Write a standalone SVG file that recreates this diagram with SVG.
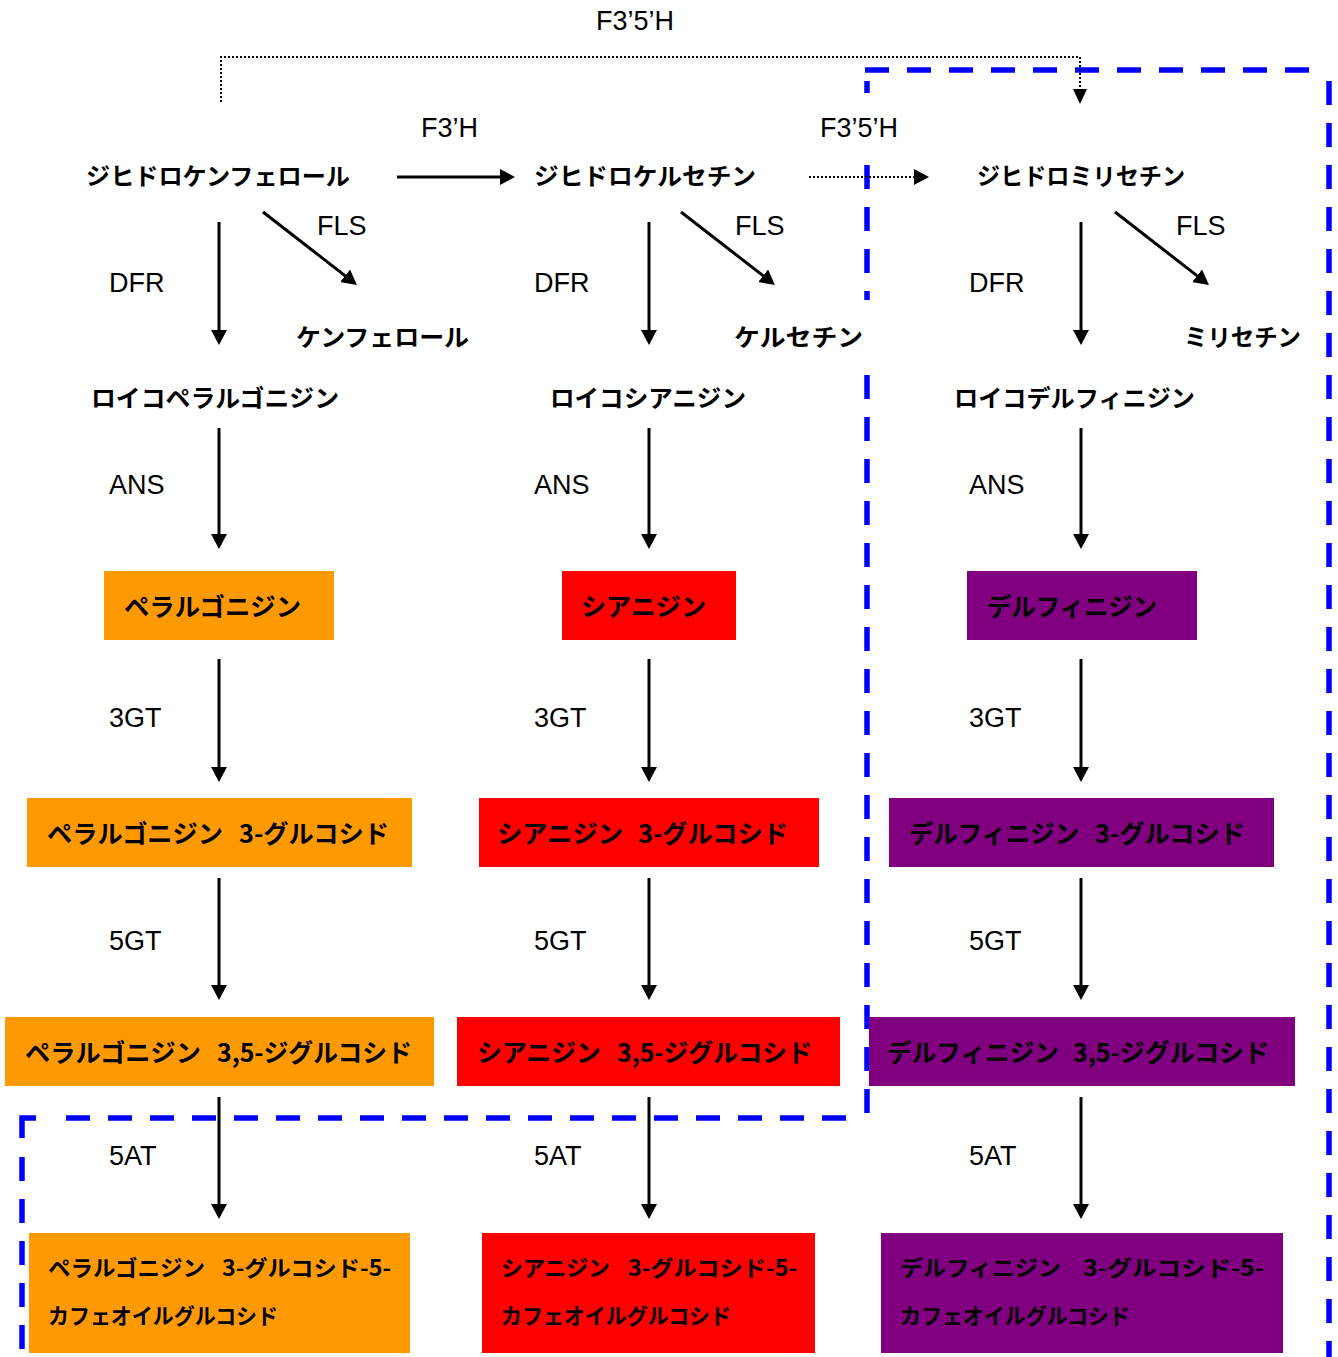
<svg xmlns="http://www.w3.org/2000/svg" width="1338" height="1357" viewBox="0 0 1338 1357">
<style>
.lbl{font-family:"Liberation Sans",Arial,sans-serif;font-size:27px;fill:#000}
.jp{font-family:"Noto Sans CJK JP","Noto Sans",sans-serif;font-weight:bold;font-size:24px;fill:#000}
.bx{font-family:"Noto Sans CJK JP","Noto Sans",sans-serif;font-weight:bold;font-size:25px;fill:#000}
.bs{font-family:"Noto Sans CJK JP","Noto Sans",sans-serif;font-weight:bold;font-size:22px;fill:#000}
.ar{stroke:#000;stroke-width:3;fill:none;marker-end:url(#ah)}
.dt{stroke:#000;stroke-width:2;stroke-dasharray:2 2;fill:none}
.blue{stroke:#0000FF;stroke-width:5.5;stroke-dasharray:24 18;fill:none}
.bsolid{stroke:#0000FF;stroke-width:5.5;fill:none}
.or{fill:#FF9900}.rd{fill:#FF0000}.pu{fill:#800080}
</style>
<defs>
<marker id="ah" viewBox="0 0 15 16" refX="3" refY="8" markerWidth="15" markerHeight="16" markerUnits="userSpaceOnUse" orient="auto">
<path d="M0,0 L15,8 L0,16 z" fill="#000"/>
</marker>
</defs>

<g id="region">
<path class="blue" d="M865,70 L1312,70"/>
<path class="blue" d="M1329,81 L1329,1357"/>
<path class="blue" d="M867,81 L867,1113"/>
<path class="blue" d="M846,1118 L62,1118"/>
<path class="bsolid" d="M36,1118 L22,1118 L22,1138"/>
<path class="blue" d="M22,1157 L22,1357"/>
<rect x="812" y="93" width="96" height="68" fill="#fff"/>
<rect x="728" y="300" width="150" height="72" fill="#fff"/>
</g>

<g id="connectors">
<path class="dt" d="M221,102 L221,57 L1080,57 L1080,90"/>
<path d="M1073,89 L1087,89 L1080,104 z" fill="#000"/>
<line class="ar" x1="397" y1="177" x2="503" y2="177"/>
<line class="dt" x1="809" y1="177" x2="916" y2="177"/>
<path d="M914,169 L929,177 L914,185 z" fill="#000"/>
<line class="ar" x1="219" y1="222" x2="219" y2="333"/>
<line class="ar" x1="649" y1="222" x2="649" y2="333"/>
<line class="ar" x1="1081" y1="222" x2="1081" y2="333"/>
<line class="ar" x1="263" y1="212" x2="347.5" y2="277.6"/>
<line class="ar" x1="681" y1="212" x2="765.5" y2="277.6"/>
<line class="ar" x1="1115" y1="212" x2="1199.5" y2="277.6"/>
<line class="ar" x1="219" y1="428" x2="219" y2="537"/>
<line class="ar" x1="649" y1="428" x2="649" y2="537"/>
<line class="ar" x1="1081" y1="428" x2="1081" y2="537"/>
<line class="ar" x1="219" y1="659" x2="219" y2="770"/>
<line class="ar" x1="649" y1="659" x2="649" y2="770"/>
<line class="ar" x1="1081" y1="659" x2="1081" y2="770"/>
<line class="ar" x1="219" y1="878" x2="219" y2="988"/>
<line class="ar" x1="649" y1="878" x2="649" y2="988"/>
<line class="ar" x1="1081" y1="878" x2="1081" y2="988"/>
<line class="ar" x1="219" y1="1097" x2="219" y2="1207"/>
<line class="ar" x1="649" y1="1097" x2="649" y2="1207"/>
<line class="ar" x1="1081" y1="1097" x2="1081" y2="1207"/>
</g>

<g id="enzyme-labels">
<text class="lbl" x="596" y="30">F3’5’H</text>
<text class="lbl" x="421" y="137">F3’H</text>
<text class="lbl" x="820" y="137">F3’5’H</text>
<text class="lbl" x="317" y="235">FLS</text>
<text class="lbl" x="735" y="235">FLS</text>
<text class="lbl" x="1176" y="235">FLS</text>
<text class="lbl" x="109" y="292">DFR</text>
<text class="lbl" x="534" y="292">DFR</text>
<text class="lbl" x="969" y="292">DFR</text>
<text class="lbl" x="109" y="494">ANS</text>
<text class="lbl" x="534" y="494">ANS</text>
<text class="lbl" x="969" y="494">ANS</text>
<text class="lbl" x="109" y="727">3GT</text>
<text class="lbl" x="534" y="727">3GT</text>
<text class="lbl" x="969" y="727">3GT</text>
<text class="lbl" x="109" y="950">5GT</text>
<text class="lbl" x="534" y="950">5GT</text>
<text class="lbl" x="969" y="950">5GT</text>
<text class="lbl" x="109" y="1165">5AT</text>
<text class="lbl" x="534" y="1165">5AT</text>
<text class="lbl" x="969" y="1165">5AT</text>
</g>

<g id="dihydrokaempferol"><text class="jp" x="86" y="185" textLength="264" lengthAdjust="spacingAndGlyphs">ジヒドロケンフェロール</text></g>
<g id="dihydroquercetin"><text class="jp" x="534" y="185" textLength="222" lengthAdjust="spacingAndGlyphs">ジヒドロケルセチン</text></g>
<g id="dihydromyricetin"><text class="jp" x="977" y="185" textLength="208" lengthAdjust="spacingAndGlyphs">ジヒドロミリセチン</text></g>
<g id="kaempferol"><text class="jp" x="296" y="346" textLength="173" lengthAdjust="spacingAndGlyphs">ケンフェロール</text></g>
<g id="quercetin"><text class="jp" x="734" y="346" textLength="129" lengthAdjust="spacingAndGlyphs">ケルセチン</text></g>
<g id="myricetin"><text class="jp" x="1184" y="346" textLength="117" lengthAdjust="spacingAndGlyphs">ミリセチン</text></g>
<g id="leucopelargonidin"><text class="jp" x="91" y="407" textLength="248" lengthAdjust="spacingAndGlyphs">ロイコペラルゴニジン</text></g>
<g id="leucocyanidin"><text class="jp" x="550" y="407" textLength="196" lengthAdjust="spacingAndGlyphs">ロイコシアニジン</text></g>
<g id="leucodelphinidin"><text class="jp" x="954" y="407" textLength="241" lengthAdjust="spacingAndGlyphs">ロイコデルフィニジン</text></g>

<g id="pelargonidin"><rect class="or" x="104" y="571" width="230" height="69"/><text class="bx" x="124" y="616" textLength="177" lengthAdjust="spacingAndGlyphs">ペラルゴニジン</text></g>
<g id="cyanidin"><rect class="rd" x="562" y="571" width="174" height="69"/><text class="bx" x="581" y="616" textLength="125" lengthAdjust="spacingAndGlyphs">シアニジン</text></g>
<g id="delphinidin"><rect class="pu" x="967" y="571" width="230" height="69"/><text class="bx" x="987" y="616" textLength="170" lengthAdjust="spacingAndGlyphs">デルフィニジン</text></g>

<g id="pelargonidin-3g"><rect class="or" x="27" y="798" width="385" height="69"/><text class="bx" y="843"><tspan x="47" textLength="176" lengthAdjust="spacingAndGlyphs">ペラルゴニジン</tspan> <tspan x="239" textLength="150" lengthAdjust="spacingAndGlyphs">3-グルコシド</tspan></text></g>
<g id="cyanidin-3g"><rect class="rd" x="479" y="798" width="340" height="69"/><text class="bx" y="843"><tspan x="497" textLength="126" lengthAdjust="spacingAndGlyphs">シアニジン</tspan> <tspan x="638" textLength="150" lengthAdjust="spacingAndGlyphs">3-グルコシド</tspan></text></g>
<g id="delphinidin-3g"><rect class="pu" x="889" y="798" width="385" height="69"/><text class="bx" y="843"><tspan x="909" textLength="170" lengthAdjust="spacingAndGlyphs">デルフィニジン</tspan> <tspan x="1095" textLength="150" lengthAdjust="spacingAndGlyphs">3-グルコシド</tspan></text></g>

<g id="pelargonidin-35dg"><rect class="or" x="5" y="1017" width="429" height="69"/><text class="bx" y="1062"><tspan x="25" textLength="176" lengthAdjust="spacingAndGlyphs">ペラルゴニジン</tspan> <tspan x="217" textLength="195" lengthAdjust="spacingAndGlyphs">3,5-ジグルコシド</tspan></text></g>
<g id="cyanidin-35dg"><rect class="rd" x="457" y="1017" width="383" height="69"/><text class="bx" y="1062"><tspan x="477" textLength="124" lengthAdjust="spacingAndGlyphs">シアニジン</tspan> <tspan x="617" textLength="195" lengthAdjust="spacingAndGlyphs">3,5-ジグルコシド</tspan></text></g>
<g id="delphinidin-35dg"><rect class="pu" x="869" y="1017" width="426" height="69"/><text class="bx" y="1062"><tspan x="887" textLength="172" lengthAdjust="spacingAndGlyphs">デルフィニジン</tspan> <tspan x="1073" textLength="196" lengthAdjust="spacingAndGlyphs">3,5-ジグルコシド</tspan></text></g>

<g id="pelargonidin-3g5cg"><rect class="or" x="29" y="1233" width="381" height="120"/><text class="bs" y="1276"><tspan x="48" textLength="157" lengthAdjust="spacingAndGlyphs">ペラルゴニジン</tspan> <tspan x="222" textLength="169" lengthAdjust="spacingAndGlyphs">3-グルコシド-5-</tspan></text><text class="bs" x="48" y="1324" textLength="230" lengthAdjust="spacingAndGlyphs">カフェオイルグルコシド</text></g>
<g id="cyanidin-3g5cg"><rect class="rd" x="482" y="1233" width="333" height="120"/><text class="bs" y="1276"><tspan x="501" textLength="109" lengthAdjust="spacingAndGlyphs">シアニジン</tspan> <tspan x="628" textLength="169" lengthAdjust="spacingAndGlyphs">3-グルコシド-5-</tspan></text><text class="bs" x="501" y="1324" textLength="230" lengthAdjust="spacingAndGlyphs">カフェオイルグルコシド</text></g>
<g id="delphinidin-3g5cg"><rect class="pu" x="881" y="1233" width="402" height="120"/><text class="bs" y="1276"><tspan x="900" textLength="161" lengthAdjust="spacingAndGlyphs">デルフィニジン</tspan> <tspan x="1083" textLength="181" lengthAdjust="spacingAndGlyphs">3-グルコシド-5-</tspan></text><text class="bs" x="900" y="1324" textLength="230" lengthAdjust="spacingAndGlyphs">カフェオイルグルコシド</text></g>
</svg>
